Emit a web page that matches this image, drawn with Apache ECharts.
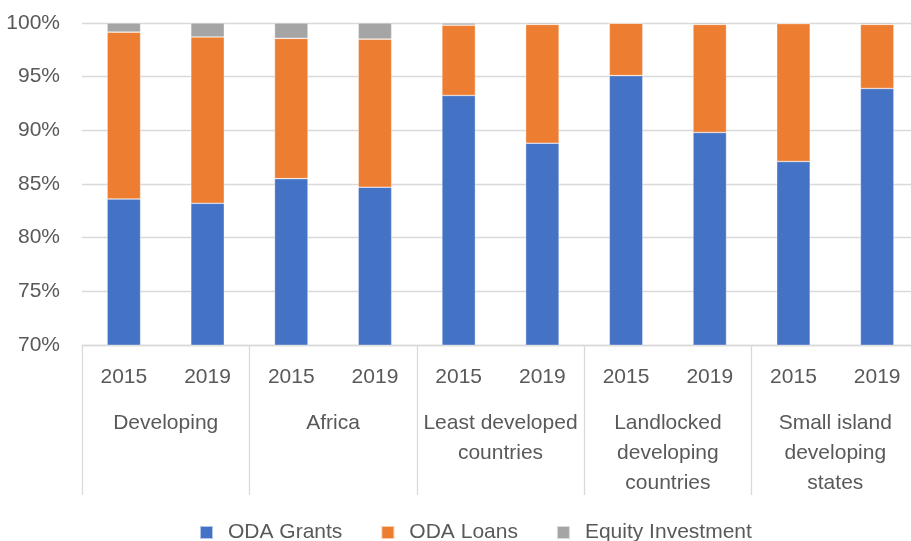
<!DOCTYPE html>
<html>
<head>
<meta charset="utf-8">
<script src="https://cdn.jsdelivr.net/npm/echarts@6/dist/echarts.min.js"></script>
<style>
  html, body { margin: 0; padding: 0; background: #fff; }
  #chart { width: 911px; height: 541px; }
</style>
</head>
<body>
<div id="chart"></div>
<script>
const years = ['2015', '2019', '2015', '2019', '2015', '2019', '2015', '2019', '2015', '2019'];
const groups = [
  'Developing',
  'Africa',
  'Least developed\ncountries',
  'Landlocked\ndeveloping\ncountries',
  'Small island\ndeveloping\nstates',
];
const grants = [83.6, 83.2, 85.5, 84.7, 93.25, 88.8, 95.1, 89.8, 87.1, 93.9];
const loans = [15.55, 15.5, 13.07, 13.8, 6.55, 11.07, 4.88, 10.07, 12.85, 5.97];
const equity = [0.85, 1.3, 1.43, 1.5, 0.2, 0.13, 0.02, 0.13, 0.05, 0.13];

const font = 'Liberation Sans';
const textColor = '#595959';
const lineColor = '#d9d9d9';

const chart = echarts.init(document.getElementById('chart'));

const barSeries = (name, data, color) => ({
  name,
  type: 'bar',
  stack: 'total',
  barWidth: '40%',
  xAxisIndex: 0,
  itemStyle: { color, borderColor: 'rgba(255,255,255,0.6)', borderWidth: 0.6 },
  data,
});

chart.setOption({
  animation: false,
  textStyle: { fontFamily: font },
  grid: { left: 82, right: -8, top: 23, bottom: 196, outerBoundsMode: 'none' },
  legend: {
    bottom: -7,
    left: 194,
    itemWidth: 13,
    itemHeight: 13,
    itemGap: 38,
    icon: 'rect',
    textStyle: { fontFamily: font, fontSize: 21, color: textColor, padding: [0, 0, 0, 10] },
    data: ['ODA Grants', 'ODA Loans', 'Equity Investment'],
  },
  xAxis: [
    {
      type: 'category',
      data: years,
      position: 'bottom',
      axisLine: { lineStyle: { color: lineColor, width: 1.3 } },
      axisTick: { show: false },
      axisLabel: { fontFamily: font, fontSize: 21, color: textColor, margin: 22, interval: 0 },
    },
    {
      type: 'category',
      data: groups,
      position: 'bottom',
      axisLine: { show: false },
      axisTick: { show: true, length: 150, lineStyle: { color: lineColor, width: 1.3 } },
      axisLabel: { fontFamily: font, fontSize: 21, color: textColor, margin: 63, lineHeight: 30, interval: 0 },
    },
  ],
  yAxis: {
    type: 'value',
    min: 70,
    max: 100,
    interval: 5,
    axisLine: { show: false },
    axisTick: { show: false },
    splitLine: { lineStyle: { color: lineColor, width: 1.3 } },
    axisLabel: { formatter: '{value}%', fontFamily: font, fontSize: 21, color: textColor, margin: 22 },
  },
  series: [
    barSeries('ODA Grants', grants, '#4472C4'),
    barSeries('ODA Loans', loans, '#ED7D31'),
    barSeries('Equity Investment', equity, '#A5A5A5'),
  ],
});
</script>
</body>
</html>
